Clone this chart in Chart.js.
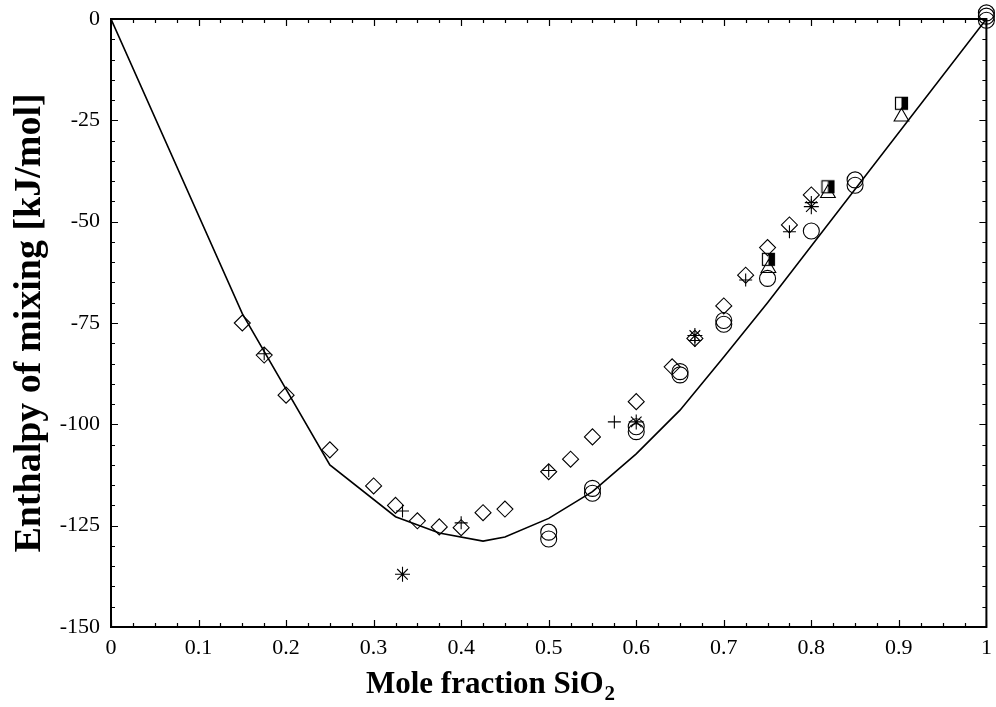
<!DOCTYPE html>
<html>
<head>
<meta charset="utf-8">
<script src="https://cdn.jsdelivr.net/npm/chart.js@4.4.1/dist/chart.umd.min.js"></script>
<style>
  html, body { margin: 0; padding: 0; background: #fff; }
</style>
</head>
<body>
<canvas id="grafico" width="996" height="707"></canvas>
<script>
// curva calculada
const curvaX = [0, 0.15, 0.25, 0.325, 0.375, 0.425, 0.45, 0.5, 0.55, 0.6, 0.65, 0.7, 0.75, 1];
const curvaY = [0, -72.7, -110, -122.8, -126.8, -128.8, -127.8, -123.2, -116.6, -107.3, -96.5, -83.4, -70, 0];

// datos experimentales, una serie por simbolo
const rombosX = [0.15, 0.175, 0.2, 0.25, 0.3, 0.325, 0.35, 0.375, 0.4, 0.425, 0.45, 0.5, 0.525, 0.55, 0.6, 0.641, 0.667, 0.7, 0.725, 0.75, 0.775, 0.8];
const rombosY = [-75, -82.9, -92.8, -106.3, -115.2, -120, -123.8, -125.3, -125.5, -121.8, -120.9, -111.7, -108.6, -103.1, -94.4, -85.8, -78.8, -70.8, -63.2, -56.4, -50.8, -43.4];

const crucesX = [0.175, 0.333, 0.4, 0.5, 0.575, 0.667, 0.725, 0.775, 0.8];
const crucesY = [-82.6, -121.4, -124.3, -111.4, -99.4, -79.3, -64.4, -52.5, -45.3];

const asteriscosX = [0.333, 0.6, 0.667, 0.8];
const asteriscosY = [-137, -99.4, -78.1, -46.3];

const circulosX = [0.5, 0.5, 0.55, 0.55, 0.6, 0.6, 0.65, 0.65, 0.7, 0.7, 0.75, 0.8, 0.85, 0.85, 1, 1, 1];
const circulosY = [-126.6, -128.3, -115.8, -117.0, -100.6, -101.8, -87.0, -87.8, -74.4, -75.3, -64.0, -52.3, -39.7, -41.0, 1.5, 0.7, -0.3];

const triangulosX = [0.751, 0.819, 0.903];
const triangulosY = [-61.5, -43.0, -24.1];

const cuadradosX = [0.751, 0.819, 0.903];
const cuadradosY = [-59.3, -41.4, -20.8];

const xTicks = [0, 0.1, 0.2, 0.3, 0.4, 0.5, 0.6, 0.7, 0.8, 0.9, 1];
const yTicks = [0, -25, -50, -75, -100, -125, -150];

function puntos(xs, ys) {
  return xs.map((x, i) => ({ x: x, y: ys[i] }));
}

// cuadrado mitad blanco mitad negro
const medioCuadrado = document.createElement('canvas');
medioCuadrado.width = 15;
medioCuadrado.height = 15;
(function () {
  const c = medioCuadrado.getContext('2d');
  c.fillStyle = '#fff';
  c.fillRect(1, 1, 13, 13);
  c.fillStyle = '#000';
  c.fillRect(7.5, 1, 6.5, 13);
  c.strokeStyle = '#000';
  c.lineWidth = 1.2;
  c.strokeRect(1.5, 1.5, 12, 12);
})();

// marco, marcas hacia adentro y titulo del eje x
const marcoPlugin = {
  id: 'marco',
  afterDraw(chart) {
    const ctx = chart.ctx;
    const a = chart.chartArea;
    const sx = chart.scales.x;
    const sy = chart.scales.y;
    ctx.save();
    ctx.strokeStyle = '#000';
    ctx.lineWidth = 1.2;
    ctx.beginPath();
    for (let i = 0; i <= 40; i++) {
      const v = i * 0.025;
      const px = Math.round(sx.getPixelForValue(v)) + 0.5;
      const l = i % 4 === 0 ? 7 : 4;
      ctx.moveTo(px, a.bottom); ctx.lineTo(px, a.bottom - l);
      ctx.moveTo(px, a.top); ctx.lineTo(px, a.top + l);
    }
    for (let i = 0; i <= 30; i++) {
      const v = -i * 5;
      const py = Math.round(sy.getPixelForValue(v)) + 0.5;
      const l = i % 5 === 0 ? 7 : 4;
      ctx.moveTo(a.left, py); ctx.lineTo(a.left + l, py);
      ctx.moveTo(a.right, py); ctx.lineTo(a.right - l, py);
    }
    ctx.stroke();
    ctx.lineWidth = 2;
    ctx.strokeRect(a.left, a.top, a.right - a.left, a.bottom - a.top);

    // titulo x con subindice
    const t1 = 'Mole fraction SiO';
    const t2 = '2';
    ctx.fillStyle = '#000';
    ctx.textBaseline = 'alphabetic';
    ctx.textAlign = 'left';
    ctx.font = 'bold 31px "Liberation Serif"';
    const w1 = ctx.measureText(t1).width;
    ctx.font = 'bold 21px "Liberation Serif"';
    const w2 = ctx.measureText(t2).width;
    const x0 = 490 - (w1 + w2) / 2;
    ctx.font = 'bold 31px "Liberation Serif"';
    ctx.fillText(t1, x0, 693);
    ctx.font = 'bold 21px "Liberation Serif"';
    ctx.fillText(t2, x0 + w1 + 1, 700);
    ctx.restore();
  }
};

const fuenteTicks = { family: 'Liberation Serif', size: 22 };

new Chart(document.getElementById('grafico'), {
  type: 'scatter',
  data: {
    datasets: [
      {
        type: 'line',
        data: puntos(curvaX, curvaY),
        borderColor: '#000',
        borderWidth: 1.6,
        pointRadius: 0,
        fill: false,
        tension: 0
      },
      {
        data: puntos(rombosX, rombosY),
        pointStyle: 'rectRot',
        pointRadius: 8,
        borderColor: '#000',
        borderWidth: 1.1,
        backgroundColor: 'rgba(0,0,0,0)'
      },
      {
        data: puntos(crucesX, crucesY),
        pointStyle: 'cross',
        pointRadius: 6.5,
        borderColor: '#000',
        borderWidth: 1.1
      },
      {
        data: puntos(asteriscosX, asteriscosY),
        pointStyle: 'star',
        pointRadius: 7.5,
        borderColor: '#000',
        borderWidth: 1.1
      },
      {
        data: puntos(circulosX, circulosY),
        pointStyle: 'circle',
        pointRadius: 8,
        borderColor: '#000',
        borderWidth: 1.1,
        backgroundColor: 'rgba(0,0,0,0)',
        clip: false
      },
      {
        data: puntos(triangulosX, triangulosY),
        pointStyle: 'triangle',
        pointRadius: 8.5,
        borderColor: '#000',
        borderWidth: 1.1,
        backgroundColor: 'rgba(0,0,0,0)'
      },
      {
        data: puntos(cuadradosX, cuadradosY),
        pointStyle: medioCuadrado,
        pointRadius: 7
      }
    ]
  },
  options: {
    responsive: false,
    animation: false,
    layout: { padding: { left: 0, top: 19, right: 8, bottom: 0 } },
    plugins: {
      legend: { display: false },
      tooltip: { enabled: false }
    },
    scales: {
      x: {
        type: 'linear',
        min: 0,
        max: 1,
        afterFit: s => { s.height = 80; s.paddingLeft = 0; s.paddingRight = 0; },
        afterBuildTicks: s => { s.ticks = xTicks.map(v => ({ value: v })); },
        grid: { display: false, drawTicks: false },
        border: { display: false },
        ticks: { color: '#000', font: fuenteTicks, padding: 8, maxRotation: 0, callback: v => String(v) },
        title: { display: false }
      },
      y: {
        type: 'linear',
        min: -150,
        max: 0,
        afterFit: s => { s.width = 111; s.paddingTop = 0; s.paddingBottom = 0; },
        afterBuildTicks: s => { s.ticks = yTicks.map(v => ({ value: v })); },
        grid: { display: false, drawTicks: false },
        border: { display: false },
        ticks: { color: '#000', font: fuenteTicks, padding: 11, callback: v => String(v) },
        title: {
          display: true,
          text: 'Enthalpy of mixing [kJ/mol]',
          color: '#000',
          font: { family: 'Liberation Serif', size: 38, weight: 'bold' },
          padding: { top: 7, bottom: 0 }
        }
      }
    }
  },
  plugins: [marcoPlugin]
});
</script>
</body>
</html>
